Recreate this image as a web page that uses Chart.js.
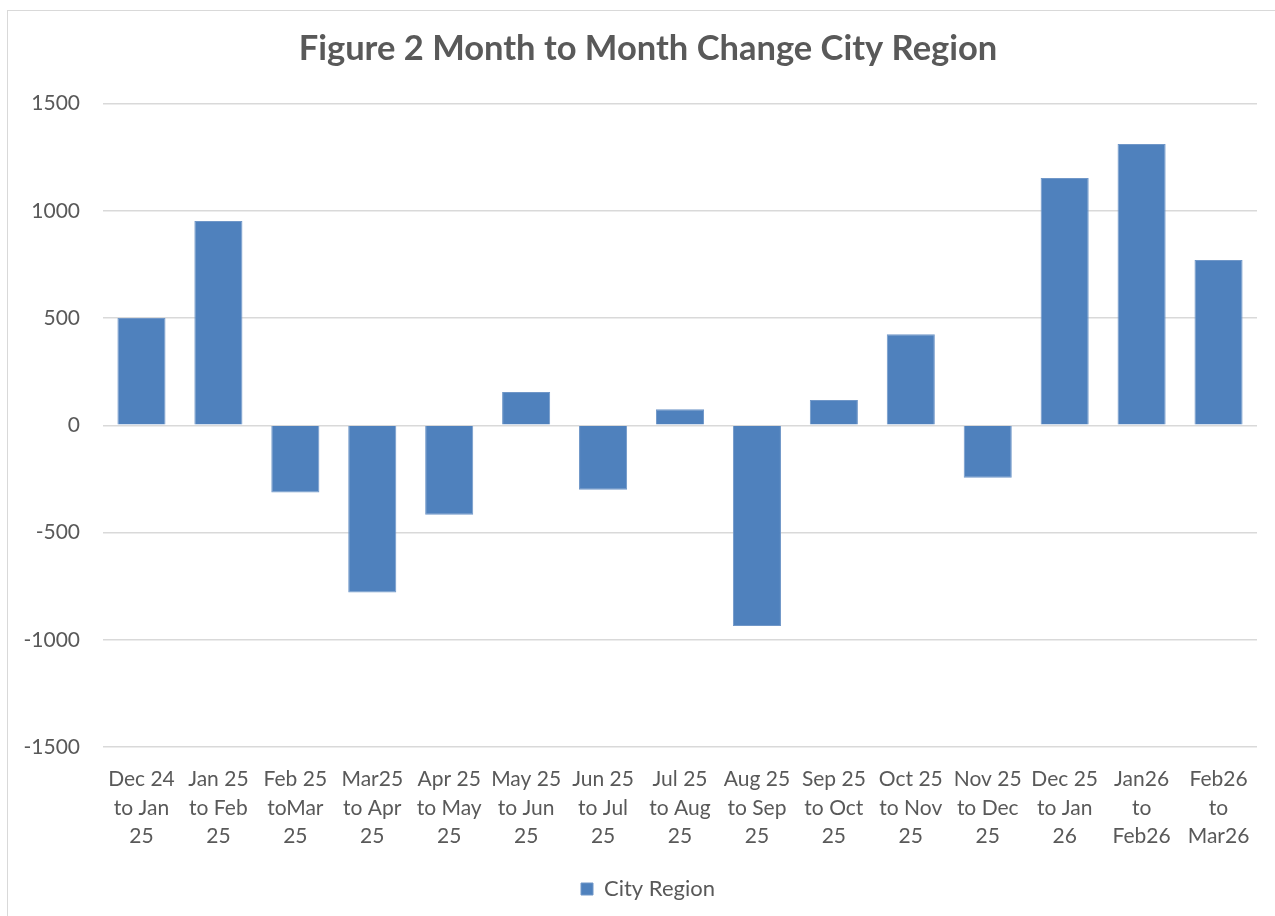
<!DOCTYPE html>
<html lang="en">
<head>
    <meta charset="UTF-8">
    <title>Month to Month Change City Region</title>
    <script src="https://cdn.jsdelivr.net/npm/chart.js"></script>
    <style>
        html, body {
            margin: 0;
            padding: 0;
            background: #ffffff;
            overflow: hidden;
            width: 1275px;
            height: 916px;
        }

        #chart-box {
            position: absolute;
            left: 7px;
            top: 10px;
            width: 1280px;
            height: 920px;
            border: 1px solid #d9d9d9;
            background: #ffffff;
        }
    </style>
</head>
<body>

<div id="chart-box">
    <canvas id="changeChart" width="1280" height="920"></canvas>
</div>

<script>
    // Data
    const periods = [
        ['Dec 24', 'to Jan', '25'],
        ['Jan 25', 'to Feb', '25'],
        ['Feb 25', 'toMar', '25'],
        ['Mar25', 'to Apr', '25'],
        ['Apr 25', 'to May', '25'],
        ['May 25', 'to Jun', '25'],
        ['Jun 25', 'to Jul', '25'],
        ['Jul 25', 'to Aug', '25'],
        ['Aug 25', 'to Sep', '25'],
        ['Sep 25', 'to Oct', '25'],
        ['Oct 25', 'to Nov', '25'],
        ['Nov 25', 'to Dec', '25'],
        ['Dec 25', 'to Jan', '26'],
        ['Jan26', 'to', 'Feb26'],
        ['Feb26', 'to', 'Mar26']
    ];
    const cityRegion = [500, 953, -313, -780, -417, 155, -300, 75, -936, 118, 425, -244, 1153, 1312, 771];
    const yMin = -1500;
    const yMax = 1500;
    const yStep = 500;

    const textGrey = '#595959';
    const fontFamily = 'Lato, "Open Sans", sans-serif';

    const ctx = document.getElementById('changeChart').getContext('2d');
    const changeChart = new Chart(ctx, {
        type: 'bar',
        data: {
            labels: periods,
            datasets: [
                {
                    label: 'City Region',
                    data: cityRegion,
                    backgroundColor: '#4f81bd',
                    borderColor: '#7097c8',
                    borderWidth: 1,
                    categoryPercentage: 1,
                    barPercentage: 0.625
                }
            ]
        },
        options: {
            responsive: false,
            animation: false,
            devicePixelRatio: 1,
            layout: {
                padding: { left: 0, right: 0, top: 0, bottom: 21 }
            },
            plugins: {
                title: {
                    display: true,
                    text: 'Figure 2 Month to Month Change City Region',
                    color: textGrey,
                    font: { family: fontFamily, size: 34.5, weight: 'bold' },
                    padding: { top: 17, bottom: 34.2 }
                },
                legend: {
                    position: 'bottom',
                    labels: {
                        color: textGrey,
                        font: { family: fontFamily, size: 22 },
                        boxWidth: 12,
                        boxHeight: 12,
                        padding: 10
                    }
                },
                tooltip: { enabled: false }
            },
            scales: {
                x: {
                    grid: { display: false, drawTicks: false },
                    border: { display: false },
                    ticks: {
                        color: textGrey,
                        font: { family: fontFamily, size: 21, lineHeight: 1.36 },
                        padding: 18,
                        maxRotation: 0,
                        autoSkip: false
                    },
                    afterFit: function (scale) {
                        scale.height = 121;
                    }
                },
                y: {
                    min: yMin,
                    max: yMax,
                    grid: {
                        color: '#d9d9d9',
                        lineWidth: 1.5,
                        drawTicks: false
                    },
                    border: { display: false },
                    ticks: {
                        stepSize: yStep,
                        color: textGrey,
                        font: { family: fontFamily, size: 21 },
                        padding: 23,
                        callback: function (value) {
                            return String(value);
                        }
                    },
                    afterFit: function (scale) {
                        scale.width = 95;
                    }
                },
                // empty right-hand axis, only to leave the blank margin right of the plot
                yRight: {
                    position: 'right',
                    min: yMin,
                    max: yMax,
                    grid: { display: false, drawTicks: false },
                    border: { display: false },
                    ticks: { display: false },
                    afterFit: function (scale) {
                        scale.width = 31;
                    }
                }
            }
        }
    });
</script>

</body>
</html>
